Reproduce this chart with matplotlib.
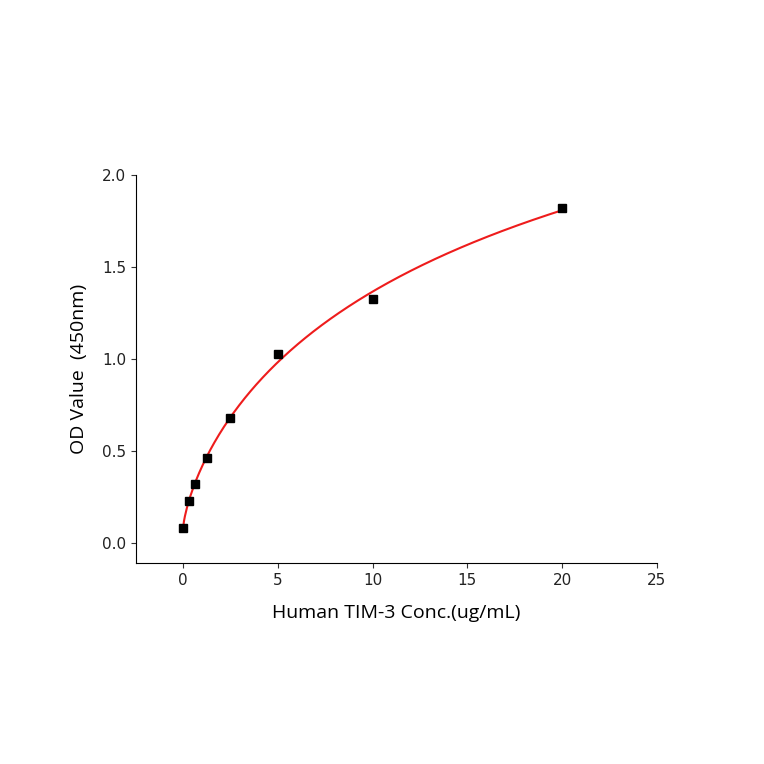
import numpy as np
import matplotlib.pyplot as plt

conc = [0, 0.3125, 0.625, 1.25, 2.5, 5, 10, 20]
od = [0.08, 0.225, 0.32, 0.46, 0.68, 1.025, 1.325, 1.82]

# 4-parameter logistic fit: y = a + b*x^p/(c^p + x^p); grid over c, p, lstsq for a, b
x = np.array(conc)
y = np.array(od)
best = None
for p in np.linspace(0.4, 1.5, 111):
    for c in np.linspace(1, 200, 400):
        f = x ** p / (c ** p + x ** p)
        A = np.column_stack([np.ones_like(x), f])
        coef, *_ = np.linalg.lstsq(A, y, rcond=None)
        err = np.sum((A @ coef - y) ** 2)
        if best is None or err < best[0]:
            best = (err, c, p, coef)
_, c, p, (a, b) = best
xs = np.linspace(0, 20, 400)
ys = a + b * xs ** p / (c ** p + xs ** p)

fig = plt.figure(figsize=(7.64, 7.64), dpi=100)
ax = fig.add_axes([136 / 764, 1 - 563 / 764, (657 - 136) / 764, (563 - 175) / 764])
ax.plot(xs, ys, color='#ee1c1c', lw=1.5)
ax.plot(conc, od, 's', color='black', ms=6)
ax.set_xlim(-2.48, 25)
ax.set_ylim(-0.11, 2.0)
ax.set_xticks([0, 5, 10, 15, 20, 25])
ax.set_yticks([0.0, 0.5, 1.0, 1.5, 2.0])
ax.set_yticklabels(['0.0', '0.5', '1.0', '1.5', '2.0'])
for s in ['top', 'right']:
    ax.spines[s].set_visible(False)
ax.tick_params(direction='out', labelsize=11, color='#333333', labelcolor='#222222')
ax.set_xlabel('Human TIM-3 Conc.(ug/mL)', fontsize=14, family='Open Sans', labelpad=12)
ax.set_ylabel('OD Value  (450nm)', fontsize=14, family='Open Sans', labelpad=10)
fig.savefig('out.png', dpi=100)
